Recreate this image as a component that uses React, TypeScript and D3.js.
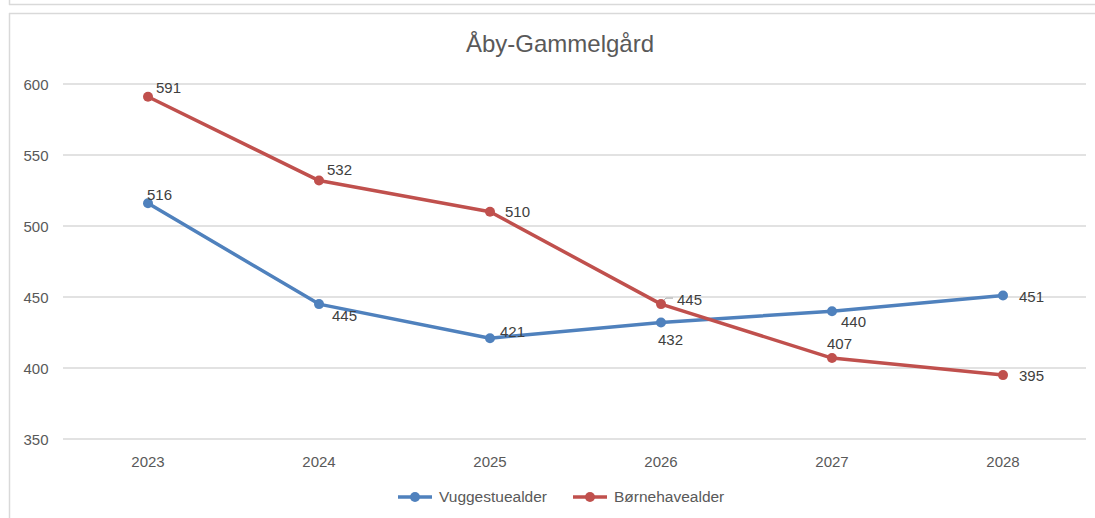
import React from "react";
import * as d3 from "d3";

const years = ["2023", "2024", "2025", "2026", "2027", "2028"];
const vuggestue = [516, 445, 421, 432, 440, 451];
const boernehave = [591, 532, 510, 445, 407, 395];
const yTicks = [350, 400, 450, 500, 550, 600];

// label offsets (dx, dy from the point, text starts at dx)
const vugLabelOffset = [[-1, -3], [13, 17], [10, -1], [-3, 22], [9, 16], [16, 6]];
const boeLabelOffset = [[8, -4], [8, -6], [15, 5], [16, 1], [-5, -9], [16, 6]];

const W = 1095;
const H = 518;
const margin = { top: 84, bottom: 79 };
const font = "Liberation Sans, Arial, sans-serif";
const textColor = "#595959";

const App = () => {
  const x = d3.scaleBand().domain(years).range([62.5, 1088.5]);
  const y = d3
    .scaleLinear()
    .domain([350, 600])
    .range([H - margin.bottom, margin.top]);

  const cxOf = (i: number) => x(years[i])! + x.bandwidth() / 2;

  const line = d3
    .line<number>()
    .x((_, i) => cxOf(i))
    .y((d) => y(d));

  const series = [
    { name: "Vuggestuealder", values: vuggestue, color: "#4F81BD", offs: vugLabelOffset },
    { name: "Børnehavealder", values: boernehave, color: "#C0504D", offs: boeLabelOffset },
  ];

  return (
    <svg width={W} height={H} style={{ position: "absolute", left: 0, top: 0 }} fontFamily={font}>
      <rect x={0} y={0} width={W} height={H} fill="#fff" />
      {/* frame edges of the chart box and the one above */}
      <line x1={9.5} x2={9.5} y1={0} y2={5} stroke="#d9d9d9" strokeWidth={1.5} />
      <line x1={9} x2={W} y1={4.5} y2={4.5} stroke="#d9d9d9" strokeWidth={1.5} />
      <line x1={9.5} x2={9.5} y1={13} y2={H} stroke="#d9d9d9" strokeWidth={1.5} />
      <line x1={9} x2={W} y1={13.5} y2={13.5} stroke="#d9d9d9" strokeWidth={1.5} />

      <text x={560} y={52} textAnchor="middle" fontSize={24} fill={textColor}>
        Åby-Gammelgård
      </text>

      {yTicks.map((t) => (
        <g key={t}>
          <line x1={63} x2={1086} y1={y(t)} y2={y(t)} stroke="#d9d9d9" strokeWidth={1.3} />
          <text x={48.5} y={y(t) + 6} textAnchor="end" fontSize={15} fill={textColor}>
            {t}
          </text>
        </g>
      ))}

      {years.map((yr, i) => (
        <text key={yr} x={cxOf(i)} y={467} textAnchor="middle" fontSize={15} fill={textColor}>
          {yr}
        </text>
      ))}

      {/* small leader line for the crowded 2026 label */}
      <polyline
        points={`${cxOf(3) + 2},${y(boernehave[3]) - 3} ${cxOf(3) + 5},${y(boernehave[3]) - 6} ${cxOf(3) + 12},${y(boernehave[3]) - 6}`}
        fill="none"
        stroke="#a6a6a6"
        strokeWidth={1}
      />

      {series.map((s) => (
        <g key={s.name}>
          <path d={line(s.values)!} fill="none" stroke={s.color} strokeWidth={3.5} strokeLinejoin="round" />
          {s.values.map((v, i) => {
            const cx = cxOf(i);
            const cy = y(v);
            const [dx, dy] = s.offs[i];
            return (
              <g key={i}>
                <circle cx={cx} cy={cy} r={5} fill={s.color} />
                <text x={cx + dx} y={cy + dy} fontSize={15} fill="#404040">
                  {v}
                </text>
              </g>
            );
          })}
        </g>
      ))}

      {series.map((s, i) => {
        const lx = 398 + i * 175;
        return (
          <g key={s.name}>
            <line x1={lx} x2={lx + 34} y1={497} y2={497} stroke={s.color} strokeWidth={3.5} />
            <circle cx={lx + 17} cy={497} r={5} fill={s.color} />
            <text x={lx + 41} y={502} fontSize={15.5} fill={textColor}>
              {s.name}
            </text>
          </g>
        );
      })}
    </svg>
  );
};

export default App;
